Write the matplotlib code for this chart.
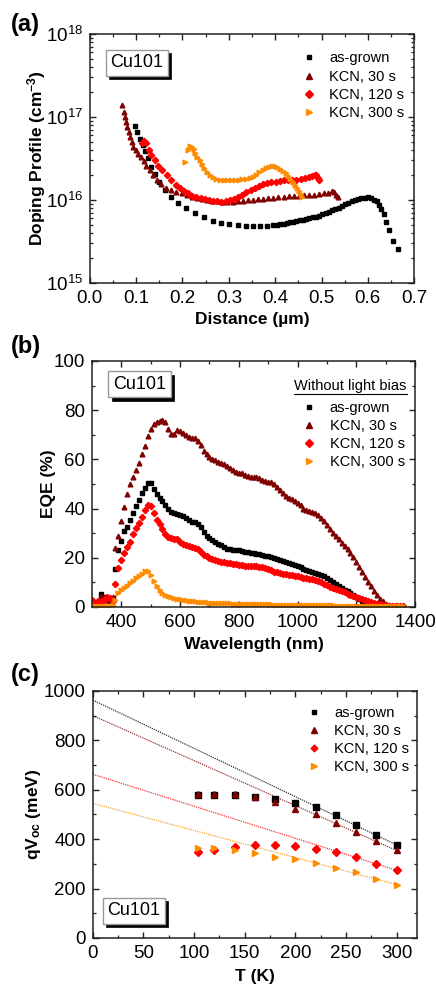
import numpy as np
import matplotlib
matplotlib.use("Agg")
import matplotlib.pyplot as plt
from matplotlib.ticker import MultipleLocator, LogLocator, NullFormatter
from matplotlib.lines import Line2D
from matplotlib.patches import Rectangle

plt.rcParams['font.family'] = ['Liberation Sans', 'DejaVu Sans']
plt.rcParams['mathtext.fontset'] = 'custom'
plt.rcParams['mathtext.rm'] = 'Liberation Sans'
plt.rcParams['mathtext.it'] = 'Liberation Sans:italic'
plt.rcParams['mathtext.bf'] = 'Liberation Sans:bold'

series_labels = ["as-grown", "KCN, 30 s", "KCN, 120 s", "KCN, 300 s"]
colors = ["#000000", "#800000", "#FF0000", "#FF8C00"]
markers = ["s", "^", "D", ">"]

# ---------------- Panel (a): doping profiles (values in 1e16 cm^-3) ----------------
dist_asgrown = [0.097, 0.102, 0.108, 0.114, 0.120, 0.126, 0.133, 0.140, 0.150, 0.162, 0.175, 0.191,
                0.207, 0.227, 0.247, 0.266, 0.283, 0.301, 0.319, 0.337, 0.353, 0.367, 0.382, 0.396,
                0.404, 0.411, 0.418, 0.425, 0.432, 0.439, 0.446, 0.453, 0.460, 0.467, 0.474, 0.481,
                0.488, 0.495, 0.502, 0.509, 0.516, 0.523, 0.530, 0.537, 0.544, 0.551, 0.558, 0.565,
                0.572, 0.579, 0.586, 0.593, 0.600, 0.607, 0.613, 0.619, 0.624, 0.629, 0.634, 0.640,
                0.645, 0.654, 0.666]
dop_asgrown = [7.8, 6.6, 5.5, 4.6, 3.9, 3.2, 2.5, 2.04, 1.66, 1.32, 1.10, 0.93,
               0.79, 0.69, 0.62, 0.56, 0.53, 0.51, 0.495, 0.49, 0.49, 0.49, 0.49, 0.50,
               0.50, 0.51, 0.52, 0.53, 0.54, 0.55, 0.56, 0.57, 0.58, 0.59, 0.61, 0.62,
               0.63, 0.65, 0.67, 0.69, 0.72, 0.75, 0.78, 0.81, 0.85, 0.89, 0.93, 0.97,
               1.00, 1.03, 1.05, 1.07, 1.08, 1.05, 1.01, 0.96, 0.88, 0.78, 0.67, 0.55,
               0.44, 0.32, 0.26]

dist_30s = [0.070, 0.074, 0.077, 0.079, 0.081, 0.084, 0.086, 0.090, 0.094, 0.099, 0.104, 0.110,
            0.116, 0.122, 0.130, 0.137, 0.144, 0.153, 0.164, 0.175, 0.187, 0.198, 0.209, 0.220,
            0.231, 0.242, 0.253, 0.264, 0.275, 0.286, 0.297, 0.308, 0.319, 0.330, 0.341, 0.352,
            0.363, 0.374, 0.385, 0.396, 0.407, 0.418, 0.429, 0.440, 0.451, 0.462, 0.473, 0.484,
            0.495, 0.506, 0.515, 0.522, 0.527, 0.531, 0.535]
dop_30s = [13.8, 11.5, 10.0, 8.7, 7.6, 6.6, 5.8, 5.0, 4.4, 4.0, 3.6, 3.3,
           2.95, 2.6, 2.3, 2.0, 1.74, 1.55, 1.41, 1.32, 1.26, 1.20, 1.15, 1.10,
           1.06, 1.03, 1.00, 0.98, 0.96, 0.95, 0.95, 0.95, 0.96, 0.97, 0.99, 1.00,
           1.02, 1.04, 1.05, 1.07, 1.09, 1.10, 1.11, 1.12, 1.13, 1.14, 1.15, 1.16,
           1.18, 1.20, 1.23, 1.27, 1.25, 1.15, 1.08]

dist_120s = [0.112, 0.117, 0.122, 0.127, 0.133, 0.140, 0.148, 0.156, 0.166, 0.175, 0.185, 0.194,
             0.203, 0.212, 0.221, 0.230, 0.239, 0.248, 0.257, 0.266, 0.275, 0.284, 0.293, 0.302,
             0.311, 0.320, 0.329, 0.338, 0.347, 0.356, 0.365, 0.374, 0.383, 0.392, 0.401, 0.410,
             0.419, 0.428, 0.437, 0.446, 0.455, 0.464, 0.472, 0.479, 0.485, 0.489, 0.492, 0.495]
dop_120s = [4.8, 5.2, 4.8, 4.0, 3.5, 3.0, 2.6, 2.3, 2.0, 1.74, 1.52, 1.38,
            1.28, 1.20, 1.13, 1.08, 1.05, 1.02, 1.00, 0.98, 0.96, 0.95, 0.96, 0.99,
            1.03, 1.09, 1.16, 1.24, 1.32, 1.40, 1.48, 1.55, 1.60, 1.64, 1.67, 1.70,
            1.72, 1.74, 1.75, 1.76, 1.78, 1.82, 1.88, 1.95, 2.02, 1.98, 1.85, 1.72]

dist_300s = [0.205, 0.212, 0.216, 0.220, 0.224, 0.228, 0.232, 0.237, 0.242, 0.247, 0.253, 0.259,
             0.266, 0.273, 0.281, 0.289, 0.297, 0.305, 0.313, 0.321, 0.329, 0.337, 0.345, 0.352,
             0.359, 0.366, 0.373, 0.380, 0.387, 0.393, 0.399, 0.405, 0.411, 0.417, 0.423, 0.428,
             0.433, 0.438, 0.443, 0.447, 0.451, 0.455, 0.458]
dop_300s = [2.9, 4.0, 4.5, 4.4, 4.1, 3.7, 3.3, 3.0, 2.7, 2.4, 2.2, 2.0,
            1.87, 1.80, 1.75, 1.74, 1.74, 1.74, 1.75, 1.76, 1.78, 1.80, 1.83, 1.90,
            2.0, 2.15, 2.3, 2.43, 2.53, 2.58, 2.55, 2.48, 2.38, 2.25, 2.1, 1.95,
            1.80, 1.65, 1.50, 1.38, 1.27, 1.17, 1.10]

# ---------------- Panel (b): EQE (%) ----------------
wavelength = np.arange(300, 1361, 10)
eqe_asgrown = [0.5, 0.5, 2.0, 5.3, 4.2, 3.0, 2.5, 3.5, 15.5, 23.0,
               27.0, 30.8, 32.7, 35.5, 38.0, 41.0, 43.5, 46.5, 48.5, 50.5,
               50.5, 48.0, 46.0, 44.5, 43.0, 41.5, 40.0, 38.5, 38.0, 37.8,
               37.5, 36.8, 36.2, 35.3, 34.7, 34.4, 33.8, 32.4, 30.5, 29.0,
               28.0, 27.2, 26.5, 25.7, 25.0, 24.2, 23.7, 23.4, 23.3, 23.2,
               23.0, 22.8, 22.5, 22.2, 22.0, 21.8, 21.6, 21.5, 21.2, 20.9,
               20.6, 20.4, 20.0, 19.4, 19.0, 18.6, 18.3, 17.8, 17.3, 16.9,
               16.5, 16.1, 15.6, 15.0, 14.5, 14.2, 13.9, 13.5, 13.1, 12.5,
               11.8, 11.0, 10.3, 9.5, 8.6, 7.9, 7.1, 6.3, 5.5, 4.7,
               3.9, 3.2, 2.5, 2.0, 1.6, 1.2, 0.9, 0.6, 0.4, 0.3,
               0.2, 0.1, 0.1, 0.1, 0.1, 0.1, 0.1]
eqe_30s = [1.0, 0.5, 1.5, 4.5, 3.5, 3.0, 3.0, 4.0, 24.0, 29.0,
           35.0, 40.5, 46.0, 50.0, 53.0, 55.5, 58.5, 62.0, 65.5, 69.5,
           72.5, 74.5, 75.3, 75.8, 76.2, 75.2, 72.5, 70.5, 70.3, 72.0,
           71.5, 70.8, 69.8, 69.0, 68.6, 68.8, 67.5, 66.0, 63.5, 62.0,
           61.0, 60.3, 59.6, 59.0, 58.5, 58.0, 57.3, 56.5, 55.8, 55.0,
           54.6, 54.3, 53.8, 53.2, 52.8, 53.0, 52.8, 52.3, 51.8, 51.3,
           51.0, 50.7, 49.8, 48.8, 47.5, 46.3, 45.3, 44.5, 44.0, 43.2,
           42.3, 41.3, 40.0, 39.5, 39.2, 38.8, 38.3, 37.5, 36.3, 34.8,
           33.2, 31.6, 30.0, 28.8, 27.6, 26.2, 24.8, 23.4, 22.0, 20.4,
           18.4, 16.3, 14.2, 12.2, 10.2, 8.4, 6.6, 5.0, 3.4, 2.3,
           1.4, 0.8, 0.4, 0.3, 0.3, 0.3, 0.3]
eqe_120s = [2.8, 1.5, 2.5, 2.0, 2.7, 4.0, 3.5, 2.5, 9.5, 16.0,
            19.0, 22.0, 24.2, 26.5, 29.5, 32.0, 34.0, 36.5, 39.5, 41.5,
            41.0, 38.0, 35.5, 33.7, 31.5, 29.5, 28.5, 28.0, 27.8, 27.5,
            26.3, 25.5, 25.0, 24.8, 24.5, 24.0, 23.4, 22.2, 21.3, 20.6,
            20.0, 19.5, 19.0, 18.7, 18.3, 18.1, 17.9, 17.7, 17.5, 17.3,
            17.1, 16.9, 16.8, 16.8, 16.8, 16.7, 16.6, 16.4, 16.2, 16.0,
            15.6, 14.9, 14.4, 14.1, 13.8, 13.6, 13.5, 13.2, 12.9, 12.6,
            12.4, 12.2, 11.9, 11.6, 11.3, 11.2, 11.0, 10.6, 10.0, 9.5,
            8.9, 8.2, 7.7, 7.2, 6.8, 6.4, 5.9, 5.4, 5.0, 4.6,
            4.2, 3.8, 3.3, 2.9, 2.5, 2.1, 1.7, 1.4, 1.1, 0.9,
            0.7, 0.5, 0.4, 0.3, 0.3, 0.3, 0.3]
eqe_300s = [0.3, 0.3, 0.3, 0.5, 0.5, 0.5, 0.5, 1.0, 3.0, 5.5,
            6.8, 7.7, 8.6, 9.6, 10.6, 11.6, 12.6, 13.6, 14.8, 14.5,
            12.8, 10.5, 8.5, 7.0, 5.8, 5.0, 4.4, 4.0, 3.6, 3.3,
            3.1, 2.9, 2.7, 2.5, 2.4, 2.3, 2.1, 2.0, 1.9, 1.9,
            1.8, 1.7, 1.7, 1.6, 1.6, 1.5, 1.5, 1.5, 1.4, 1.4,
            1.4, 1.3, 1.3, 1.3, 1.2, 1.2, 1.2, 1.2, 1.1, 1.1,
            1.1, 1.1, 1.0, 1.0, 1.0, 1.0, 0.9, 0.9, 0.9, 0.9,
            0.9, 0.8, 0.8, 0.8, 0.8, 0.8, 0.8, 0.7, 0.7, 0.7,
            0.7, 0.7, 0.7, 0.6, 0.6, 0.6, 0.6, 0.6, 0.6, 0.6,
            0.5, 0.5, 0.5, 0.5, 0.5, 0.5, 0.5, 0.5, 0.5, 0.5,
            0.5, 0.4, 0.4, 0.4, 0.4, 0.4, 0.4]

# ---------------- Panel (c): qVoc vs T ----------------
temperature = [104, 120, 140, 160, 180, 200, 220, 240, 260, 280, 300]
voc_asgrown = [578, 578, 578, 572, 561, 547, 532, 496, 458, 416, 378]
voc_30s = [581, 584, 581, 572, 550, 524, 500, 464, 428, 393, 355]
voc_120s = [350, 355, 368, 376, 376, 372, 362, 347, 327, 301, 274]
voc_300s = [365, 365, 358, 345, 328, 318, 304, 284, 266, 240, 216]
fit_T = [0, 300]
fit_asgrown = [963, 377]
fit_30s = [900, 354]
fit_120s = [663, 274]
fit_300s = [545, 216]

fig = plt.figure(figsize=(4.36, 9.86), dpi=100)
axa = fig.add_axes([0.206, 0.713, 0.744, 0.2525])
axb = fig.add_axes([0.211, 0.3844, 0.741, 0.2495])
axc = fig.add_axes([0.213, 0.0487, 0.743, 0.2505])

TICK_FS = 13.5
LAB_FS = 12.5
LEG_FS = 10.5
CU_FS = 13

def style_axes(ax):
    for s in ax.spines.values():
        s.set_linewidth(1.1)
        s.set_color("#222222")
    ax.tick_params(which='both', direction='in', top=True, right=True, labelsize=TICK_FS,
                   color="#222222", pad=5)
    ax.tick_params(which='major', length=4.5, width=1.0)
    ax.tick_params(which='minor', length=2.5, width=0.9)

cu_texts = []
def cu_box(ax, x, y):
    t = ax.text(x, y, "Cu101", transform=ax.transAxes, fontsize=CU_FS, color='black',
                ha='left', va='center', zorder=8,
                bbox=dict(boxstyle='square,pad=0.25', fc='white', ec='#9a9a9a', lw=1.0))
    cu_texts.append((ax, t))

def legend_kw(x, y, sp):
    return dict(loc='upper left', bbox_to_anchor=(x, y), frameon=False, fontsize=LEG_FS,
                handlelength=1.0, handletextpad=0.9, labelspacing=sp, borderpad=0,
                borderaxespad=0, numpoints=1)

# ---- (a)
da = [(dist_asgrown, dop_asgrown), (dist_30s, dop_30s), (dist_120s, dop_120s), (dist_300s, dop_300s)]
msa = [3.0, 3.4, 3.2, 3.4]
for i, (xd, yd) in enumerate(da):
    axa.plot(xd, np.array(yd) * 1e16, ls='none', marker=markers[i], ms=msa[i], color=colors[i],
             mec=colors[i], label=series_labels[i])
axa.set_yscale('log')
axa.set_xlim(0, 0.7)
axa.set_ylim(1e15, 1e18)
axa.xaxis.set_major_locator(MultipleLocator(0.1))
axa.xaxis.set_minor_locator(MultipleLocator(0.05))
axa.xaxis.set_major_formatter(matplotlib.ticker.FormatStrFormatter('%.1f'))
axa.yaxis.set_major_locator(LogLocator(base=10, numticks=10))
axa.yaxis.set_minor_locator(LogLocator(base=10, subs=np.arange(2, 10), numticks=20))
axa.yaxis.set_minor_formatter(NullFormatter())
style_axes(axa)
axa.set_xlabel("Distance (µm)", fontsize=LAB_FS, fontweight='bold')
axa.set_ylabel(r"Doping Profile (cm$^{\mathbf{-3}}$)", fontsize=LAB_FS, fontweight='bold')
axa.xaxis.set_label_coords(0.5, -0.115)
axa.yaxis.set_label_coords(-0.128, 0.5)
axa.legend(markerscale=1.2, **legend_kw(0.652, 0.93, 0.29))
cu_box(axa, 0.063, 0.885)

# ---- (b)
db = [eqe_asgrown, eqe_30s, eqe_120s, eqe_300s]
msb = [3.0, 3.4, 3.2, 3.4]
for i, yd in enumerate(db):
    axb.plot(wavelength, yd, ls='none', marker=markers[i], ms=msb[i], color=colors[i],
             mec=colors[i], label=series_labels[i])
axb.set_xlim(300, 1400)
axb.set_ylim(0, 100)
axb.xaxis.set_major_locator(MultipleLocator(200))
axb.xaxis.set_minor_locator(MultipleLocator(100))
axb.yaxis.set_major_locator(MultipleLocator(20))
axb.yaxis.set_minor_locator(MultipleLocator(10))
style_axes(axb)
axb.set_xlabel("Wavelength (nm)", fontsize=LAB_FS, fontweight='bold')
axb.set_ylabel("EQE (%)", fontsize=LAB_FS, fontweight='bold')
axb.xaxis.set_label_coords(0.5, -0.12)
axb.yaxis.set_label_coords(-0.11, 0.5)
axb.legend(markerscale=1.2, **legend_kw(0.65, 0.836, 0.27))
tb = axb.text(0.626, 0.9, "Without light bias", transform=axb.transAxes, fontsize=LEG_FS,
              ha='left', va='center')
cu_box(axb, 0.065, 0.905)

# ---- (c)
dc = [(voc_asgrown, fit_asgrown), (voc_30s, fit_30s), (voc_120s, fit_120s), (voc_300s, fit_300s)]
msc = [4.0, 4.4, 4.0, 4.6]
for i, (yd, fd) in enumerate(dc):
    axc.plot(fit_T, fd, ls=(0, (1.0, 0.8)), lw=0.9, color=colors[i], alpha=0.8)
for i, (yd, fd) in enumerate(dc):
    axc.plot(temperature, yd, ls='none', marker=markers[i], ms=msc[i], color=colors[i],
             mec=colors[i], label=series_labels[i])
axc.set_xlim(0, 320)
axc.set_ylim(0, 1000)
axc.xaxis.set_major_locator(MultipleLocator(50))
axc.xaxis.set_minor_locator(MultipleLocator(25))
axc.yaxis.set_major_locator(MultipleLocator(200))
axc.yaxis.set_minor_locator(MultipleLocator(100))
style_axes(axc)
axc.set_xlabel("T (K)", fontsize=LAB_FS, fontweight='bold')
axc.set_ylabel(r"qV$_{\mathbf{oc}}$ (meV)", fontsize=LAB_FS, fontweight='bold')
axc.xaxis.set_label_coords(0.5, -0.125)
axc.yaxis.set_label_coords(-0.155, 0.5)
axc.legend(markerscale=0.85, **legend_kw(0.66, 0.94, 0.28))
cu_box(axc, 0.045, 0.11)

for lbl, yy in [("(a)", 25), ("(b)", 346), ("(c)", 674)]:
    fig.text(11 / 436, 1 - yy / 986, lbl, fontsize=17, fontweight='bold', ha='left', va='center')

# underline for the legend title in (b) and drop shadows behind the Cu101 boxes
fig.canvas.draw()
inv = fig.transFigure.inverted()
bb = tb.get_window_extent()
(x0, y0), (x1, _) = inv.transform([(bb.x0, bb.y0 - 1), (bb.x1, bb.y0)])
fig.add_artist(Line2D([x0, x1], [y0, y0], transform=fig.transFigure, color='black', lw=0.8))
for ax, t in cu_texts:
    pb = t.get_bbox_patch().get_window_extent()
    ainv = ax.transAxes.inverted()
    (ax0, ay0), (ax1, ay1) = ainv.transform([(pb.x0 + 3.5, pb.y0 - 3.5), (pb.x1 + 3.5, pb.y1 - 3.5)])
    ax.add_patch(Rectangle((ax0, ay0), ax1 - ax0, ay1 - ay0, transform=ax.transAxes,
                           fc='black', ec='black', lw=0.5, zorder=7, clip_on=False))

fig.savefig("out.png", dpi=100)
